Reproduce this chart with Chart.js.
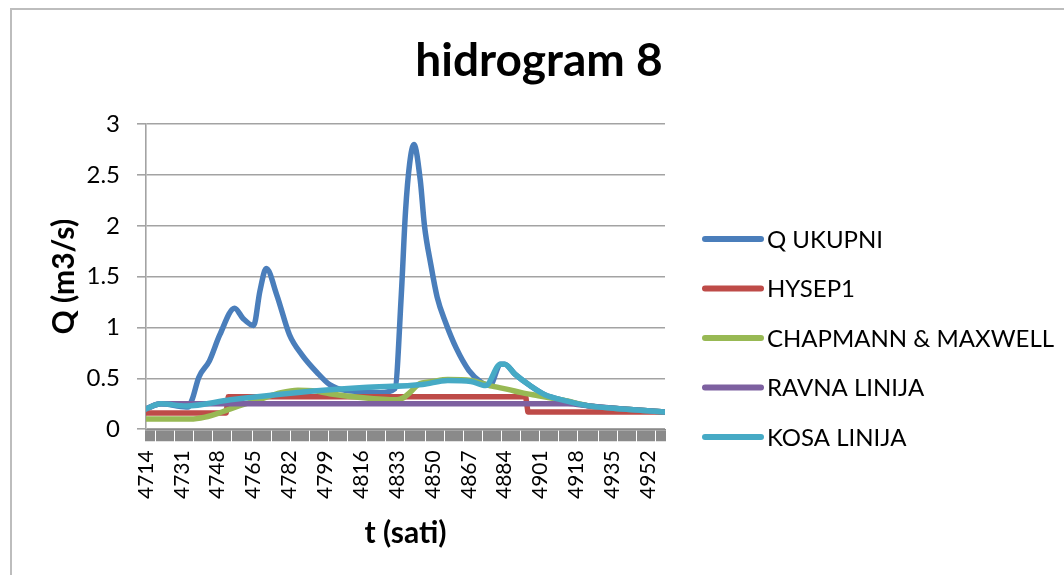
<html>
<head>
<script src="https://cdn.jsdelivr.net/npm/chart.js@4.4.1/dist/chart.umd.min.js"></script>
<style>
  body { margin: 0; background: #fff; }
  #frame {
    position: absolute; left: 10px; top: 8px; width: 1060px; height: 575px;
    border-left: 2px solid #bdbdbd; border-top: 2px solid #bdbdbd;
  }
  #wrap { position: absolute; left: 0; top: 0; width: 1064px; height: 575px; }
</style>
</head>
<body>
<div id="frame"></div>
<div id="wrap"><canvas id="hydroChart"></canvas></div>

<script>
  // hours (t) and flows Q (m3/s) for each curve
  var qHours  = [4714, 4721, 4733, 4734, 4736, 4739, 4744, 4749, 4756, 4760, 4765, 4768, 4771, 4776, 4782, 4788, 4795, 4801, 4809, 4817, 4825, 4832, 4835, 4837, 4839, 4841, 4844, 4846, 4849, 4852, 4856, 4861, 4867, 4873, 4877, 4882, 4884, 4889, 4896, 4903, 4913, 4924, 4940, 4960];
  var qValues = [0.20, 0.25, 0.22, 0.22, 0.30, 0.51, 0.67, 0.93, 1.19, 1.09, 1.02, 1.36, 1.58, 1.32, 0.93, 0.73, 0.56, 0.44, 0.38, 0.37, 0.36, 0.40, 1.32, 2.14, 2.62, 2.80, 2.45, 2.00, 1.62, 1.30, 1.05, 0.80, 0.58, 0.46, 0.43, 0.64, 0.64, 0.54, 0.43, 0.34, 0.28, 0.23, 0.20, 0.17];

  var hysepHours  = [4714, 4752, 4753, 4894, 4895, 4960];
  var hysepValues = [0.16, 0.16, 0.32, 0.32, 0.17, 0.17];

  var chapHours  = [4714, 4735, 4742, 4750, 4758, 4766, 4778, 4786, 4793, 4801, 4817, 4833, 4836, 4839, 4843, 4850, 4857, 4868, 4877, 4886, 4892, 4900, 4908, 4913, 4924, 4940, 4960];
  var chapValues = [0.10, 0.10, 0.12, 0.17, 0.23, 0.28, 0.36, 0.385, 0.38, 0.35, 0.31, 0.29, 0.31, 0.36, 0.44, 0.47, 0.49, 0.48, 0.43, 0.39, 0.36, 0.33, 0.30, 0.28, 0.23, 0.20, 0.17];

  var ravnaHours  = [4714, 4721, 4733, 4914, 4924, 4940, 4960];
  var ravnaValues = [0.20, 0.25, 0.25, 0.25, 0.23, 0.20, 0.17];

  var kosaHours  = [4714, 4721, 4733, 4754, 4785, 4817, 4845, 4857, 4868, 4875, 4882, 4884, 4889, 4896, 4903, 4913, 4924, 4940, 4960];
  var kosaValues = [0.20, 0.25, 0.23, 0.29, 0.36, 0.41, 0.44, 0.48, 0.47, 0.43, 0.64, 0.64, 0.54, 0.43, 0.34, 0.28, 0.23, 0.20, 0.17];

  var xTickLabels = [4714, 4731, 4748, 4765, 4782, 4799, 4816, 4833, 4850, 4867, 4884, 4901, 4918, 4935, 4952];
  var yTicks = [0, 0.5, 1, 1.5, 2, 2.5, 3];

  function points(hours, values) {
    return hours.map(function (h, i) { return { x: h, y: values[i] }; });
  }

  function series(label, hours, values, color, order, smooth) {
    return {
      label: label,
      data: points(hours, values),
      borderColor: color,
      backgroundColor: color,
      borderWidth: 5.5,
      pointRadius: 0,
      borderCapStyle: 'round',
      borderJoinStyle: 'round',
      cubicInterpolationMode: smooth ? 'monotone' : 'default',
      tension: 0,
      order: order
    };
  }

  var font = "Lato";

  // legend column to the right of the plot, one line sample per series
  var sideLegend = {
    id: 'sideLegend',
    afterDraw: function (chart) {
      var ctx = chart.ctx;
      var x0 = chart.chartArea.right + 40;
      ctx.save();
      ctx.font = '24px ' + font;
      ctx.textBaseline = 'middle';
      ctx.lineCap = 'round';
      ctx.lineWidth = 6;
      chart.data.datasets.forEach(function (ds, i) {
        var y = 239 + i * 49.5;
        ctx.strokeStyle = ds.borderColor;
        ctx.beginPath();
        ctx.moveTo(x0, y);
        ctx.lineTo(x0 + 56, y);
        ctx.stroke();
        ctx.fillStyle = '#000';
        ctx.fillText(ds.label, x0 + 62, y + 1);
      });
      ctx.restore();
    }
  };

  function draw() {
    new Chart(document.getElementById('hydroChart'), {
      type: 'line',
      data: {
        datasets: [
          series('Q UKUPNI', qHours, qValues, '#4A7EBB', 5, true),
          series('HYSEP1', hysepHours, hysepValues, '#BE4B48', 4, false),
          series('CHAPMANN & MAXWELL', chapHours, chapValues, '#98B954', 3, true),
          series('RAVNA LINIJA', ravnaHours, ravnaValues, '#7D60A0', 2, true),
          series('KOSA LINIJA', kosaHours, kosaValues, '#46AAC5', 1, true)
        ]
      },
      plugins: [sideLegend],
      options: {
        responsive: true,
        maintainAspectRatio: false,
        animation: false,
        layout: { padding: { left: 46, right: 32, top: 34, bottom: 24 } },
        plugins: {
          title: {
            display: true,
            text: 'hidrogram 8',
            color: '#000',
            font: { family: font, size: 46, weight: 'bold' },
            padding: { top: 0, bottom: 35 }
          },
          legend: { display: false },
          tooltip: { enabled: false }
        },
        scales: {
          x: {
            type: 'linear',
            min: 4714,
            max: 4960,
            title: {
              display: true,
              text: 't (sati)',
              color: '#000',
              font: { family: font, size: 30, weight: 'bold' },
              padding: { top: 7, bottom: 0 }
            },
            ticks: {
              stepSize: 1,
              autoSkip: false,
              minRotation: 90,
              maxRotation: 90,
              padding: 9,
              color: '#000',
              font: { family: font, size: 21 },
              callback: function (v) { return xTickLabels.indexOf(v) >= 0 ? String(v) : ''; }
            },
            grid: {
              drawOnChartArea: false,
              drawTicks: true,
              tickLength: 12,
              color: '#8a8a8a',
              lineWidth: 2
            },
            border: { display: true, color: '#8a8a8a', width: 1.5 }
          },
          y: {
            min: 0,
            max: 3,
            title: {
              display: true,
              text: 'Q (m3/s)',
              color: '#000',
              font: { family: font, size: 30, weight: 'bold' },
              padding: 0
            },
            afterBuildTicks: function (axis) {
              axis.ticks = yTicks.map(function (v) { return { value: v }; });
            },
            afterFit: function (axis) { axis.width = 100; },
            ticks: {
              padding: 17,
              color: '#000',
              font: { family: font, size: 24 },
              callback: function (v) { return String(v); }
            },
            grid: {
              color: '#a3a3a3',
              lineWidth: 1.6,
              tickLength: 9
            },
            border: { display: true, color: '#a3a3a3', width: 1.6 }
          },
          // empty column that keeps room for the legend
          legendSpace: {
            type: 'linear',
            position: 'right',
            display: true,
            ticks: { display: false },
            grid: { display: false },
            border: { display: false },
            afterFit: function (axis) { axis.width = 367; }
          }
        }
      }
    });
  }

  Promise.all([
    document.fonts.load('24px Lato'),
    document.fonts.load('bold 24px Lato')
  ]).then(draw, draw);
</script>
</body>
</html>
